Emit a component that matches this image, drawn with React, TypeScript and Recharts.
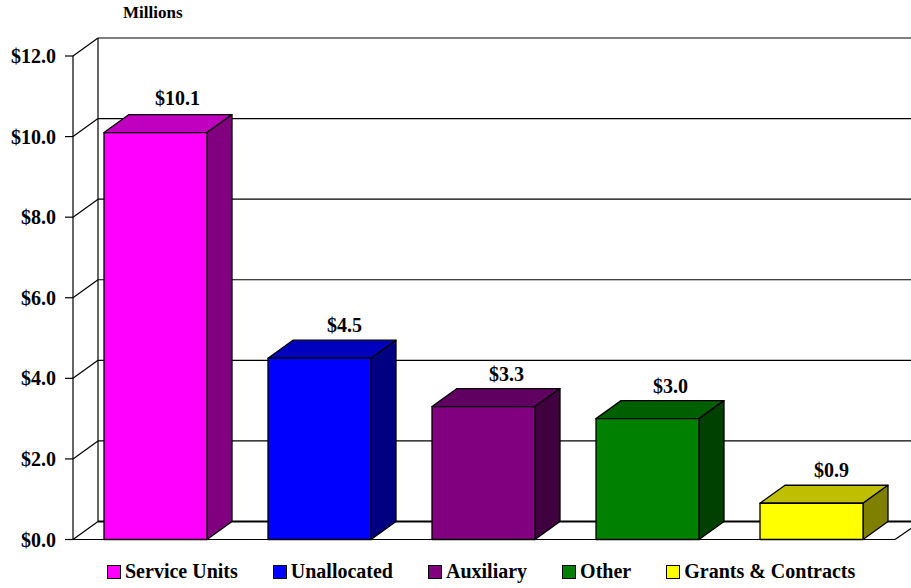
import React from "react";
import { Bar, BarChart, CartesianGrid, LabelList, Legend, XAxis, YAxis } from "recharts";

const categories = ["Service Units", "Unallocated", "Auxiliary", "Other", "Grants & Contracts"];
const amounts = [10.1, 4.5, 3.3, 3.0, 0.9];
const yTicks = [0, 2, 4, 6, 8, 10, 12];

const FRONT = ["#ff00ff", "#0000ff", "#800080", "#008000", "#ffff00"];
const TOP = ["#bf00bf", "#0000bf", "#600060", "#006000", "#bfbf00"];
const SIDE = ["#800080", "#000080", "#400040", "#004000", "#808000"];

const DEPTH_X = 25;
const DEPTH_Y = 18;
const FONT = "'Liberation Serif', 'Times New Roman', serif";

// Hand placement of the value labels above each bar
const LABEL_DX = [22, 25, 23, 23, 20];
const LABEL_DY = [28, 26, 26, 26, 26];

const data = categories.map((name, i) => ({ name, amount: amounts[i] }));

const Bar3D = (props: any) => {
    const { x, y, width, height, index } = props;
    const right = x + width;
    const bottom = y + height;
    return (
        <g stroke="#000" strokeWidth={1.3} strokeLinejoin="round">
            <path
                d={`M${x},${y} L${x + DEPTH_X},${y - DEPTH_Y} L${right + DEPTH_X},${y - DEPTH_Y} L${right},${y} Z`}
                fill={TOP[index]}
            />
            <path
                d={`M${right},${y} L${right + DEPTH_X},${y - DEPTH_Y} L${right + DEPTH_X},${bottom - DEPTH_Y} L${right},${bottom} Z`}
                fill={SIDE[index]}
            />
            <rect x={x} y={y} width={width} height={height} fill={FRONT[index]} />
        </g>
    );
};

// Back wall, floor and the diagonal joining each tick to the wall
const WallLine = (props: any) => {
    const { x1, y1, x2, index, y: plotTop, height: plotHeight } = props;
    const isFloor = Math.abs(y1 - (plotTop + plotHeight)) < 0.5;
    const isFirst = index === 0;
    return (
        <g stroke="#000" strokeWidth={1.2} fill="none">
            <line x1={x1} y1={y1} x2={x1 + DEPTH_X} y2={y1 - DEPTH_Y} />
            <line
                x1={x1 + DEPTH_X}
                y1={y1 - DEPTH_Y}
                x2={x2 + 18}
                y2={y1 - DEPTH_Y}
                strokeWidth={isFloor ? 2 : 1.2}
            />
            {isFirst && (
                <line
                    x1={x1 + DEPTH_X}
                    y1={plotTop - DEPTH_Y}
                    x2={x1 + DEPTH_X}
                    y2={plotTop + plotHeight - DEPTH_Y}
                />
            )}
            {isFloor && (
                <>
                    <line x1={x1} y1={y1} x2={x2 + 2} y2={y1} />
                    <line x1={x2 + 2} y1={y1} x2={x2 + 18} y2={y1 - 11} />
                </>
            )}
        </g>
    );
};

const ValueLabel = (props: any) => {
    const { x, y, width, value, index } = props;
    return (
        <text
            x={x + width / 2 + LABEL_DX[index]}
            y={y - LABEL_DY[index]}
            textAnchor="middle"
            fontFamily={FONT}
            fontWeight="bold"
            fontSize={20}
            fill="#000"
        >
            {`$${Number(value).toFixed(1)}`}
        </text>
    );
};

const LegendRow = () => (
    <div style={{ display: "flex", gap: 35, fontFamily: FONT, fontWeight: "bold", fontSize: 20, lineHeight: "23px", color: "#000", whiteSpace: "nowrap" }}>
        {categories.map((name, i) => (
            <div key={name} style={{ display: "flex", alignItems: "center" }}>
                <span
                    style={{
                        display: "inline-block",
                        width: 12,
                        height: 12,
                        marginRight: 4,
                        background: FRONT[i],
                        border: "1px solid #000",
                    }}
                />
                {name}
            </div>
        ))}
    </div>
);

const App = () => (
    <div style={{ position: "absolute", left: 0, top: 0 }}>
        <BarChart
            width={911}
            height={588}
            data={data}
            margin={{ top: 56, right: 18, bottom: 25.5, left: 0 }}
            barSize={103}
        >
            <CartesianGrid horizontal={WallLine} vertical={false} />
            <XAxis dataKey="name" hide />
            <YAxis
                width={73}
                domain={[0, 12]}
                ticks={yTicks}
                interval={0}
                tickSize={8}
                tickMargin={9}
                tickFormatter={(v: number) => `$${v.toFixed(1)}`}
                axisLine={{ stroke: "#000", strokeWidth: 1.2 }}
                tickLine={{ stroke: "#000", strokeWidth: 1.2 }}
                tick={{ fontFamily: FONT, fontWeight: "bold", fontSize: 20, fill: "#000" }}
            />
            <Bar dataKey="amount" shape={Bar3D} isAnimationActive={false}>
                <LabelList dataKey="amount" content={ValueLabel} />
            </Bar>
            <Legend content={LegendRow} wrapperStyle={{ left: 107, top: 560, width: "auto" }} />
            <text x={123} y={18} fontFamily={FONT} fontWeight="bold" fontSize={17} fill="#000">
                Millions
            </text>
        </BarChart>
    </div>
);

export default App;
